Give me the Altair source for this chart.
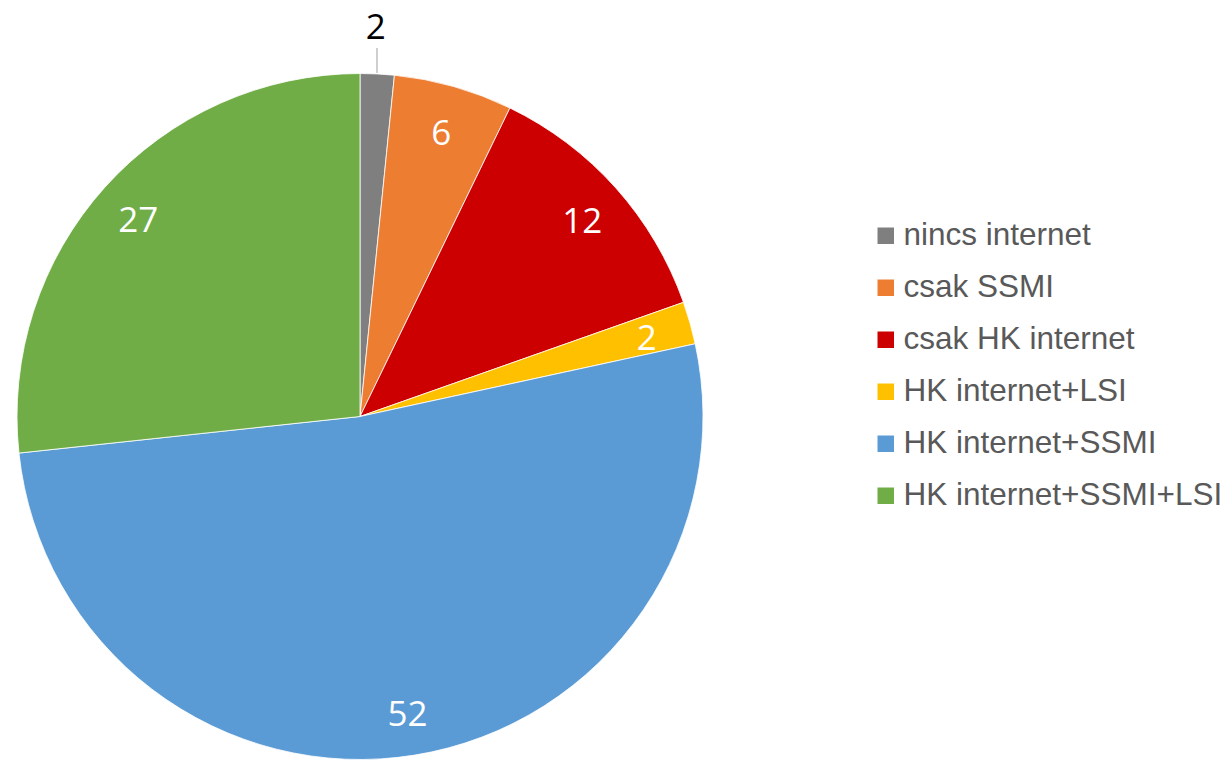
import altair as alt
import pandas as pd

categories = ["nincs internet", "csak SSMI", "csak HK internet",
              "HK internet+LSI", "HK internet+SSMI", "HK internet+SSMI+LSI"]
values = [1.6, 5.6, 12.4, 2.0, 51.7, 26.7]
labels = ["2", "6", "12", "2", "52", "27"]
colors = ["#7F7F7F", "#ED7D31", "#CC0000", "#FFC000", "#5B9BD5", "#70AD47"]

df = pd.DataFrame({
    "idx": list(range(len(categories))),
    "cat": categories,
    "value": values,
    "label": labels,
})

FONT = "Open Sans"
CX, CY = 352, 408.5
R = 343

base = alt.Chart(df).encode(
    theta=alt.Theta("value:Q", stack=True),
    order=alt.Order("idx:Q"),
    x=alt.value(CX),
    y=alt.value(CY),
)

pie = base.mark_arc(outerRadius=R, stroke="white", strokeWidth=0.8).encode(
    color=alt.Color(
        "cat:N",
        scale=alt.Scale(domain=categories, range=colors),
        legend=alt.Legend(
            title=None,
            orient="none",
            legendX=862,
            legendY=212,
            symbolType="square",
            symbolSize=272,
            symbolStrokeWidth=0,
            labelFont="Liberation Sans",
            labelFontSize=31.5,
            labelColor="#595959",
            labelOffset=2,
            labelLimit=400,
            rowPadding=19,
            padding=0,
        ),
    )
)

inner = base.transform_calculate(
    t="datum.idx == 0 ? '' : datum.label"
).mark_text(radius=298, dy=4, font=FONT, fontSize=35, color="white",
            align="center", baseline="middle").encode(text="t:N")

outer = base.transform_calculate(
    t="datum.idx == 0 ? datum.label : ''"
).mark_text(radius=392, dx=-4, dy=3, font=FONT, fontSize=35, color="black",
            align="center", baseline="middle").encode(text="t:N")

leader = alt.Chart(df).mark_rule(color="#BFBFBF", strokeWidth=1.5).encode(
    x=alt.value(369), y=alt.value(40), y2=alt.value(65)
).transform_filter("datum.idx == 0")

chart = alt.layer(pie, inner, outer, leader).properties(
    width=1216, height=752, padding=0,
    autosize=alt.AutoSizeParams(type="none"),
).configure_view(strokeWidth=0)

chart.save("out.html", embed_options={"renderer": "svg", "actions": False})
